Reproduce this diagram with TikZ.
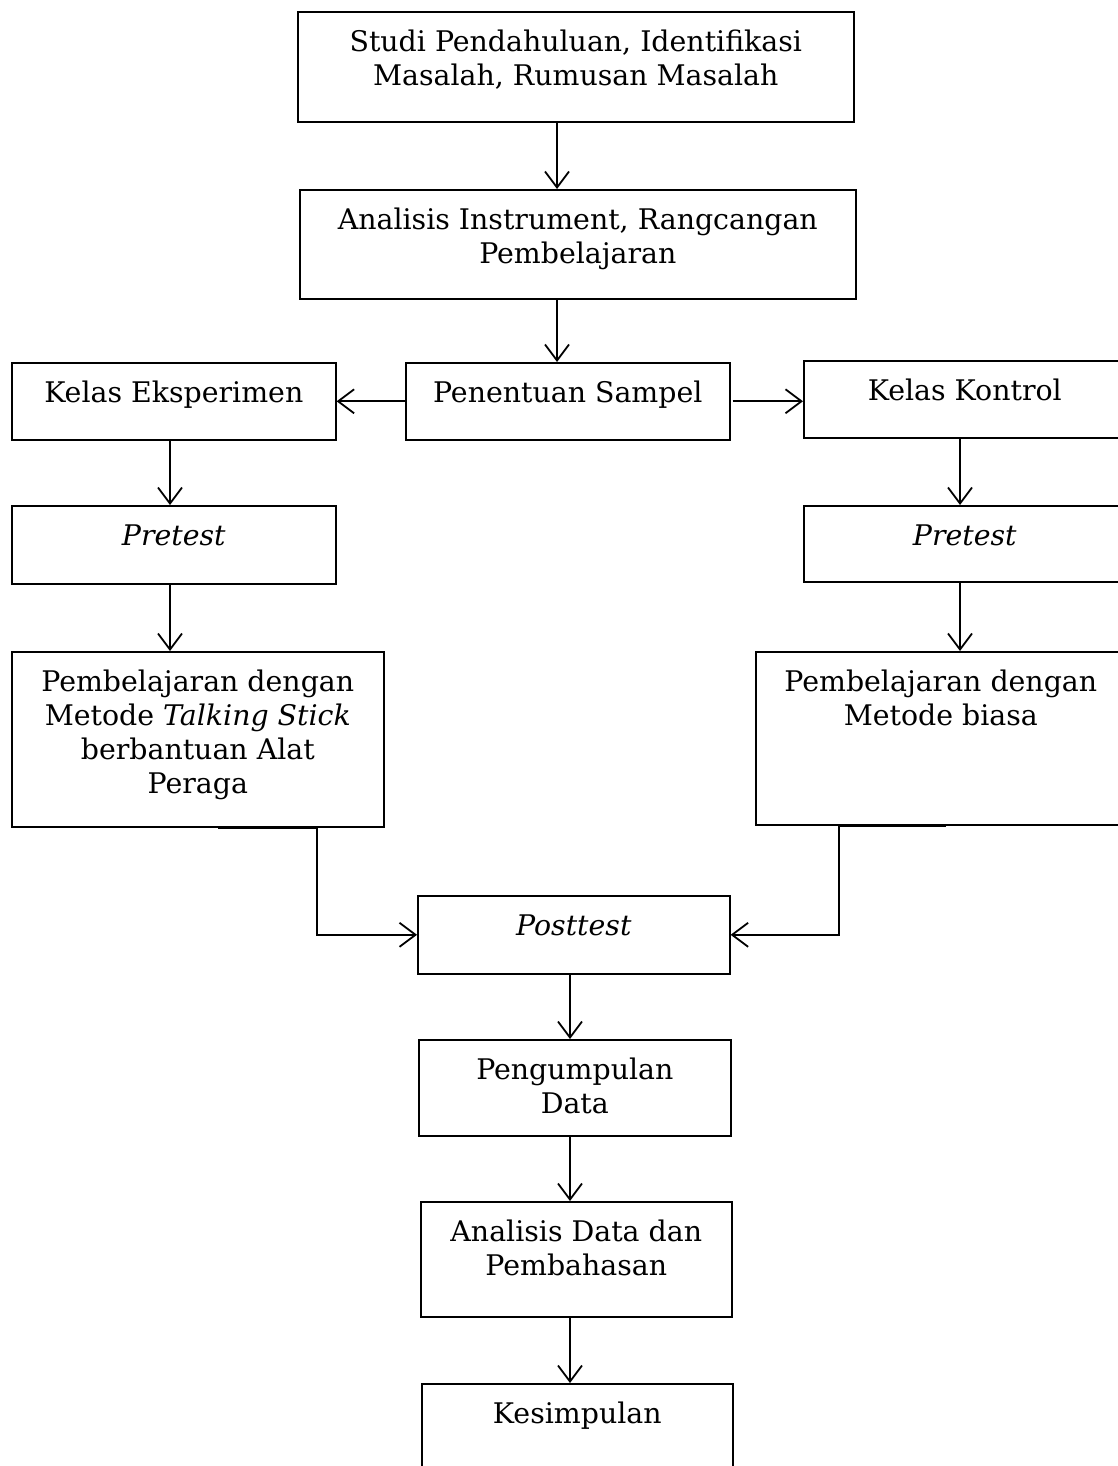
\documentclass[tikz,border=0pt]{standalone}
\usepackage{fontspec}
\setmainfont{DejaVu Serif}
\usetikzlibrary{arrows.meta}

% text set at the top of a fixed-size box
\newcommand{\boxtext}[3]{\parbox[t][#2][t]{#1}{\centering\vspace*{8pt}\strut#3}}

\begin{document}
\begin{tikzpicture}[
  x=0.5pt, y=-0.5pt,
  font=\fontsize{14.2}{17}\selectfont,
  box/.style={draw, line width=0.8pt, anchor=north west, inner sep=0pt},
  arr/.style={-{Straight Barb[length=8pt,width=12pt]}, line width=0.9pt}
]
  \useasboundingbox (0,0) rectangle (1118,1466);
  \node[box] (studi) at (297,11) {\boxtext{278pt}{55pt}{Studi Pendahuluan, Identifikasi\\Masalah, Rumusan Masalah}};
  \node[box] (instr) at (299,189) {\boxtext{278pt}{54.5pt}{Analisis Instrument, Rangcangan\\Pembelajaran}};
  \node[box] (sampel) at (405,362) {\boxtext{162pt}{38.5pt}{Penentuan Sampel}};
  \node[box] (eksp) at (11,362) {\boxtext{162pt}{38.5pt}{Kelas Eksperimen}};
  \node[box] (kontrol) at (803,360) {\boxtext{161pt}{38.5pt}{Kelas Kontrol}};
  \node[box] (preA) at (11,505) {\boxtext{162pt}{39pt}{\textit{Pretest}}};
  \node[box] (preB) at (803,505) {\boxtext{161pt}{38pt}{\textit{Pretest}}};
  \node[box] (pembA) at (11,651) {\boxtext{186pt}{87.5pt}{Pembelajaran dengan\\Metode \textit{Talking Stick}\\berbantuan Alat\\Peraga}};
  \node[box] (pembB) at (755,651) {\boxtext{185pt}{86.5pt}{Pembelajaran dengan\\Metode biasa}};
  \node[box] (post) at (417,895) {\boxtext{156pt}{39pt}{\textit{Posttest}}};
  \node[box] (kumpul) at (418,1039) {\boxtext{156pt}{48pt}{Pengumpulan\\Data}};
  \node[box] (adata) at (420,1201) {\boxtext{155.5pt}{57.5pt}{Analisis Data dan\\Pembahasan}};
  \node[box] (simpul) at (421,1383) {\boxtext{155.5pt}{50pt}{Kesimpulan}};
  \draw[arr] (557,0 |- studi.south) -- (557,0 |- instr.north);
  \draw[arr] (557,0 |- instr.south) -- (557,0 |- sampel.north);
  \draw[arr] (sampel.west) -- (sampel.west -| eksp.east);
  \draw[arr] ([xshift=1pt]sampel.east) -- (sampel.east -| kontrol.west);
  \draw[arr] (170,0 |- eksp.south) -- (170,0 |- preA.north);
  \draw[arr] (960,0 |- kontrol.south) -- (960,0 |- preB.north);
  \draw[arr] (170,0 |- preA.south) -- (170,0 |- pembA.north);
  \draw[arr] (960,0 |- preB.south) -- (960,0 |- pembB.north);
  \draw[arr] (218,0 |- pembA.south) -| (317,0 |- post.west) -- (post.west);
  \draw[arr] (946,0 |- pembB.south) -| (839,0 |- post.east) -- (post.east);
  \draw[arr] (570,0 |- post.south) -- (570,0 |- kumpul.north);
  \draw[arr] (570,0 |- kumpul.south) -- (570,0 |- adata.north);
  \draw[arr] (570,0 |- adata.south) -- (570,0 |- simpul.north);
\end{tikzpicture}
\end{document}
